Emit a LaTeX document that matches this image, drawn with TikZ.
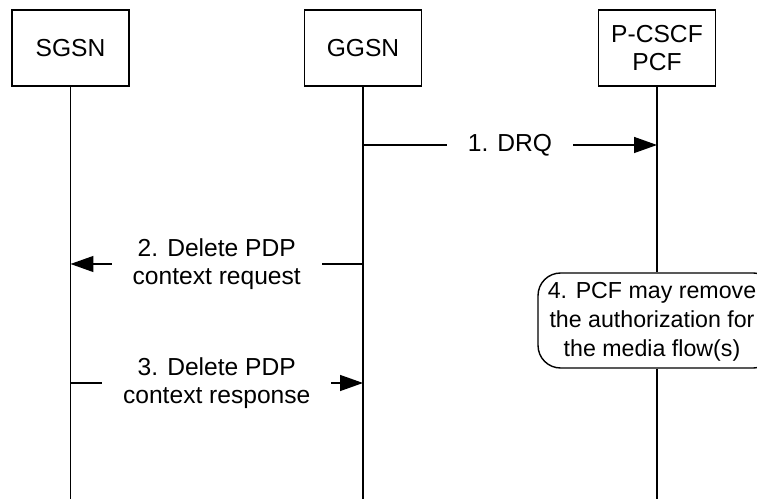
\documentclass[tikz,border=0pt]{standalone}
\usepackage{fontspec}
\setmainfont{Liberation Sans}
\usetikzlibrary{arrows.meta}
\begin{document}
\begin{tikzpicture}[x=0.02cm, y=-0.02cm, line width=0.8pt,
  font=\fontsize{14}{16}\selectfont,
  entity/.style={draw, minimum width=2.34cm, minimum height=1.52cm, align=center, inner sep=0pt},
  msg/.style={-{Triangle[length=0.46cm, width=0.32cm]}},
  msglabel/.style={fill=white, align=center, inner xsep=0.42cm, inner ysep=1pt},
  action/.style={draw, fill=white, rounded corners=0.45cm, minimum width=4.76cm, minimum height=1.9cm, align=center, inner sep=0pt, font=\fontsize{13.2}{16.5}\selectfont}]
\useasboundingbox (0,0) rectangle (757,499);
\clip (0,0) rectangle (757,499);
\node[entity] (ent0) at (70.5,48){SGSN};
\node[entity] (ent1) at (363,48){GGSN};
\node[entity] (ent2) at (657,48){P-CSCF\\PCF};
\coordinate (end0) at (70.5,499);
\coordinate (end1) at (363,499);
\coordinate (end2) at (657,499);
\node[action] (act4) at (657,320.5){};
\node[align=center, inner sep=0pt, font=\fontsize{13.2}{16.5}\selectfont] (txt4) at (652,322){4. PCF may remove\\the authorization for\\the media flow(s)};
\draw[](ent0) -- (end0);
\draw[](ent1) -- (end1);
\draw[](ent2) -- (act4);
\draw[](act4) -- (end2);
\coordinate (ggsn1) at (363,145);
\coordinate (pcf1) at (657,145);
\draw[msg](ggsn1) -- node[msglabel]{1. DRQ} (pcf1);
\coordinate (ggsn2) at (363,264);
\coordinate (sgsn2) at (70.5,264);
\draw[msg](ggsn2) -- node[msglabel]{2. Delete PDP\\context request} (sgsn2);
\coordinate (sgsn3) at (70.5,383);
\coordinate (ggsn3) at (363,383);
\draw[msg](sgsn3) -- node[msglabel]{3. Delete PDP\\context response} (ggsn3);
\end{tikzpicture}
\end{document}
